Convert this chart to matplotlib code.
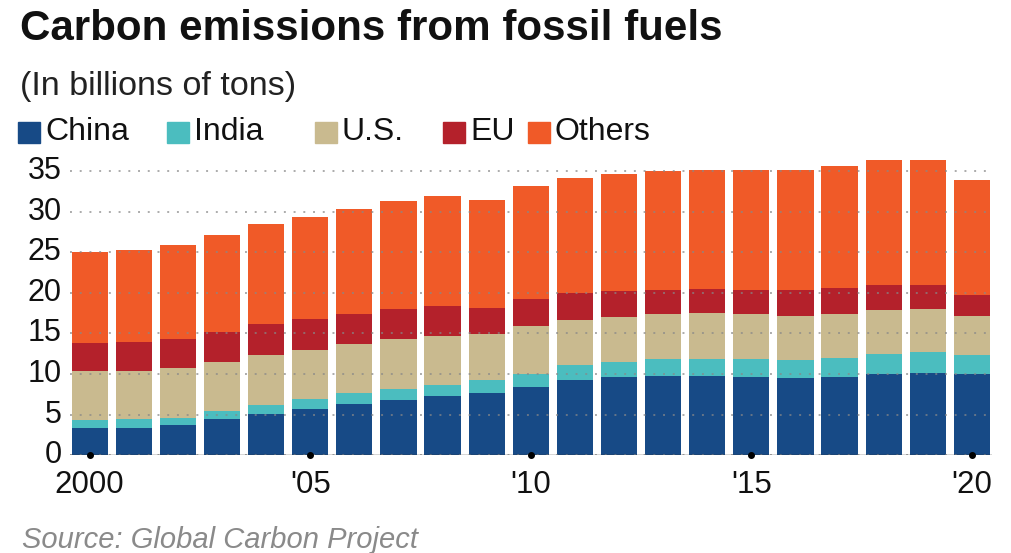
import matplotlib
matplotlib.use("Agg")
import matplotlib.pyplot as plt
import numpy as np
from matplotlib.patches import Rectangle

plt.rcParams['font.family'] = ['Liberation Sans', 'DejaVu Sans']

years = list(range(2000, 2021))
year_labels = {2000: '2000', 2005: "'05", 2010: "'10", 2015: "'15", 2020: "'20"}

china = [3.28, 3.36, 3.65, 4.39, 5.05, 5.70, 6.28, 6.77, 7.30, 7.67, 8.41,
         9.31, 9.56, 9.73, 9.73, 9.56, 9.48, 9.64, 9.93, 10.14, 9.93]
india = [1.03, 1.03, 0.95, 1.03, 1.11, 1.15, 1.31, 1.35, 1.32, 1.56, 1.64,
         1.77, 1.89, 2.05, 2.09, 2.22, 2.21, 2.26, 2.50, 2.54, 2.38]
us = [6.07, 5.95, 6.11, 6.03, 6.19, 6.15, 6.07, 6.16, 6.11, 5.67, 5.83,
      5.54, 5.50, 5.58, 5.70, 5.54, 5.50, 5.54, 5.50, 5.33, 4.80]
eu = [3.45, 3.57, 3.57, 3.69, 3.74, 3.74, 3.70, 3.73, 3.65, 3.20, 3.32,
      3.36, 3.24, 3.03, 2.96, 3.07, 3.12, 3.12, 3.00, 2.92, 2.55]
others = [11.20, 11.39, 11.57, 11.94, 12.35, 12.60, 12.92, 13.26, 13.50, 13.29, 13.91,
          14.16, 14.48, 14.61, 14.69, 14.78, 14.77, 15.10, 15.38, 15.38, 14.28]

series = [('China', china, '#174a86'),
          ('India', india, '#4bbdbf'),
          ('U.S.', us, '#c9ba8f'),
          ('EU', eu, '#b4212b'),
          ('Others', others, '#f05a28')]

fig = plt.figure(figsize=(10.12, 5.53), dpi=100)
ax = fig.add_axes([0.069, 0.177, 0.911, 0.5374])

bottom = np.zeros(len(years))
for name, vals, col in series:
    ax.bar(years, vals, bottom=bottom, width=0.82, color=col, zorder=2)
    bottom += np.array(vals)

ax.set_xlim(1999.55, 2020.45)
ax.set_ylim(0, 36.6)
ax.set_yticks(range(0, 36, 5))
ax.set_xticks(list(year_labels.keys()))
ax.set_xticklabels(list(year_labels.values()))
ax.tick_params(axis='y', length=0, pad=6, labelsize=22, labelcolor='#111')
ax.tick_params(axis='x', length=0, pad=11, labelsize=22.5, labelcolor='#111')
for lab in ax.get_yticklabels():
    lab.set_verticalalignment('center')

for s in ax.spines.values():
    s.set_visible(False)

ax.yaxis.grid(True, linestyle=(0, (1, 4)), color='#888', linewidth=1.4, alpha=0.7, zorder=3)
ax.set_axisbelow(False)
ax.axhline(0, color='#333', lw=1, zorder=4)
ticks = list(year_labels.keys())
ax.plot(ticks, [0] * len(ticks), 'o', color='black', ms=4, clip_on=False, zorder=5)

fig.text(0.02, 1 - 29 / 553, 'Carbon emissions from fossil fuels', fontsize=30.3,
         fontweight='bold', color='#111', va='center')
fig.text(0.02, 1 - 87 / 553, '(In billions of tons)', fontsize=24.6, color='#222', va='center')

leg_x = [18, 167, 315, 443, 528]
for (name, vals, col), x in zip(series, leg_x):
    fig.patches.append(Rectangle((x / 1012, 1 - 143 / 553), 22 / 1012, 21 / 553,
                                 transform=fig.transFigure, color=col))
    fig.text((x + 27) / 1012, 1 - 132 / 553, name, fontsize=23, color='#111', va='center')

fig.text(0.022, 1 - 548 / 553, 'Source: Global Carbon Project', fontsize=21, style='italic',
         color='#8a8a8a', va='baseline')

fig.savefig('out.png', dpi=100, facecolor='white')
